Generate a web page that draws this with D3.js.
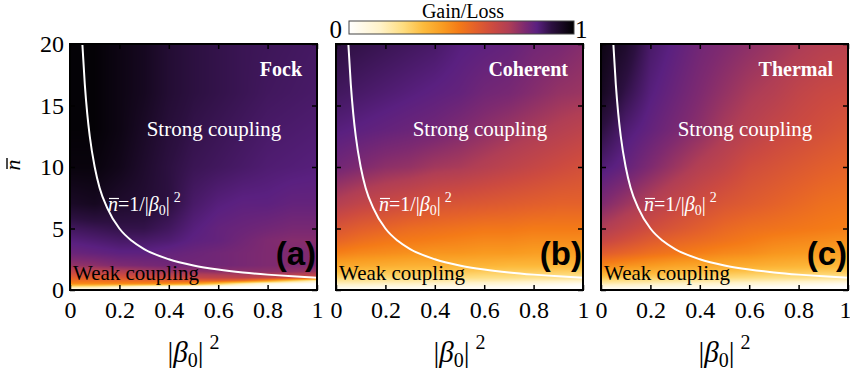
<!DOCTYPE html>
<html>
<head>
<meta charset="utf-8">
<script src="https://cdn.jsdelivr.net/npm/d3@7"></script>
<style>
  body { margin: 0; background: #fff; }
  svg { display: block; }
</style>
</head>
<body>
<div id="chart"></div>
<script>
const betaGrid = [0, 0.1, 0.2, 0.3, 0.4, 0.5, 0.6, 0.7, 0.8, 0.9, 1];
const nGrid = [0, 0.25, 0.5, 0.75, 1, 1.5, 2, 3, 4, 5, 7, 10, 13, 16, 20];

// one row per nGrid entry (n = 0 first), one column per betaGrid entry
const fockGain = [
  [0, 0, 0, 0, 0, 0, 0, 0, 0, 0, 0],
  [0.22, 0.2, 0.14, 0.08, 0.04, 0.02, 0, 0, 0, 0, 0],
  [0.45, 0.45, 0.45, 0.45, 0.44, 0.40, 0.30, 0.16, 0.06, 0.02, 0],
  [0.52, 0.52, 0.53, 0.54, 0.55, 0.56, 0.56, 0.52, 0.42, 0.28, 0.15],
  [0.57, 0.58, 0.60, 0.62, 0.64, 0.66, 0.67, 0.68, 0.66, 0.64, 0.62],
  [0.67, 0.68, 0.70, 0.72, 0.74, 0.75, 0.76, 0.76, 0.76, 0.75, 0.74],
  [0.75, 0.76, 0.78, 0.79, 0.80, 0.80, 0.80, 0.79, 0.78, 0.78, 0.78],
  [0.81, 0.82, 0.83, 0.83, 0.82, 0.81, 0.80, 0.79, 0.78, 0.78, 0.78],
  [0.84, 0.85, 0.86, 0.86, 0.85, 0.83, 0.82, 0.80, 0.78, 0.77, 0.77],
  [0.87, 0.88, 0.89, 0.89, 0.87, 0.84, 0.82, 0.81, 0.80, 0.79, 0.79],
  [0.94, 0.95, 0.93, 0.92, 0.90, 0.86, 0.84, 0.83, 0.83, 0.82, 0.82],
  [0.98, 0.98, 0.96, 0.93, 0.90, 0.88, 0.87, 0.86, 0.85, 0.845, 0.84],
  [0.99, 0.99, 0.97, 0.94, 0.91, 0.89, 0.88, 0.87, 0.86, 0.855, 0.85],
  [0.99, 0.99, 0.97, 0.95, 0.92, 0.90, 0.89, 0.88, 0.87, 0.865, 0.86],
  [0.99, 0.99, 0.97, 0.95, 0.92, 0.90, 0.89, 0.88, 0.875, 0.87, 0.865]
];

const coherentGain = [
  [0, 0, 0, 0, 0, 0, 0, 0, 0, 0, 0],
  [0.07, 0.07, 0.06, 0.06, 0.05, 0.05, 0.04, 0.03, 0.02, 0.01, 0],
  [0.15, 0.15, 0.14, 0.14, 0.13, 0.12, 0.11, 0.10, 0.08, 0.06, 0.04],
  [0.21, 0.21, 0.20, 0.20, 0.19, 0.18, 0.18, 0.17, 0.16, 0.15, 0.14],
  [0.26, 0.26, 0.25, 0.25, 0.24, 0.24, 0.23, 0.23, 0.22, 0.22, 0.21],
  [0.33, 0.32, 0.31, 0.31, 0.30, 0.30, 0.29, 0.29, 0.29, 0.28, 0.28],
  [0.39, 0.38, 0.37, 0.36, 0.36, 0.35, 0.35, 0.34, 0.34, 0.34, 0.34],
  [0.48, 0.46, 0.45, 0.44, 0.43, 0.43, 0.42, 0.42, 0.41, 0.41, 0.41],
  [0.55, 0.52, 0.50, 0.49, 0.48, 0.47, 0.46, 0.46, 0.45, 0.45, 0.45],
  [0.60, 0.57, 0.55, 0.53, 0.52, 0.51, 0.50, 0.50, 0.49, 0.49, 0.49],
  [0.70, 0.67, 0.65, 0.63, 0.61, 0.60, 0.59, 0.58, 0.57, 0.56, 0.56],
  [0.80, 0.78, 0.76, 0.75, 0.73, 0.72, 0.70, 0.68, 0.66, 0.64, 0.62],
  [0.84, 0.83, 0.82, 0.81, 0.80, 0.78, 0.76, 0.74, 0.72, 0.70, 0.68],
  [0.87, 0.86, 0.85, 0.84, 0.83, 0.82, 0.80, 0.79, 0.77, 0.75, 0.74],
  [0.90, 0.89, 0.88, 0.87, 0.86, 0.84, 0.83, 0.82, 0.80, 0.79, 0.77]
];

const thermalGain = [
  [0, 0, 0, 0, 0, 0, 0, 0, 0, 0, 0],
  [0.08, 0.08, 0.07, 0.07, 0.06, 0.05, 0.04, 0.03, 0.02, 0.01, 0],
  [0.17, 0.16, 0.15, 0.14, 0.13, 0.12, 0.11, 0.10, 0.08, 0.06, 0.04],
  [0.24, 0.23, 0.22, 0.21, 0.20, 0.19, 0.18, 0.17, 0.16, 0.15, 0.14],
  [0.30, 0.29, 0.28, 0.27, 0.26, 0.25, 0.24, 0.23, 0.23, 0.22, 0.22],
  [0.39, 0.37, 0.36, 0.34, 0.33, 0.32, 0.31, 0.30, 0.30, 0.29, 0.29],
  [0.47, 0.44, 0.42, 0.40, 0.39, 0.38, 0.37, 0.36, 0.35, 0.35, 0.34],
  [0.58, 0.55, 0.52, 0.50, 0.48, 0.46, 0.45, 0.43, 0.42, 0.41, 0.40],
  [0.66, 0.62, 0.58, 0.55, 0.53, 0.51, 0.49, 0.47, 0.46, 0.45, 0.44],
  [0.71, 0.67, 0.63, 0.60, 0.57, 0.54, 0.52, 0.51, 0.50, 0.49, 0.48],
  [0.78, 0.74, 0.70, 0.66, 0.63, 0.60, 0.58, 0.56, 0.54, 0.52, 0.51],
  [0.85, 0.82, 0.78, 0.74, 0.70, 0.67, 0.63, 0.61, 0.59, 0.57, 0.555],
  [0.90, 0.85, 0.82, 0.79, 0.76, 0.72, 0.69, 0.66, 0.64, 0.62, 0.60],
  [0.95, 0.89, 0.84, 0.81, 0.78, 0.75, 0.72, 0.70, 0.67, 0.65, 0.64],
  [0.97, 0.93, 0.86, 0.83, 0.80, 0.78, 0.76, 0.74, 0.72, 0.70, 0.69]
];

// boundary curve n = 1/|beta0|^2
const curveBeta = [0.05, 0.06, 0.07, 0.08, 0.1, 0.12, 0.15, 0.2, 0.25, 0.3, 0.4, 0.5, 0.6, 0.7, 0.8, 0.9, 1.0];
const curveN = [20, 16.7, 14.3, 12.5, 10, 8.3, 6.7, 5, 4, 3.33, 2.5, 2, 1.67, 1.43, 1.25, 1.11, 1];

const panelNames = ['Fock', 'Coherent', 'Thermal'];
const panelTags = ['(a)', '(b)', '(c)'];
const panelGrids = [fockGain, coherentGain, thermalGain];
const xTicks = [0, 0.2, 0.4, 0.6, 0.8, 1];
const yTicks = [0, 5, 10, 15, 20];

const colorStops = [0, 0.14, 0.24, 0.33, 0.42, 0.49, 0.56, 0.64, 0.71, 0.78, 0.835, 0.9, 1];
const colorValues = ['#ffffff', '#fff2c8', '#fedd80', '#fdbb3d', '#f99a20', '#f47a17', '#e4612a',
  '#cc4a40', '#b03e55', '#7e2a70', '#5a2080', '#2c1040', '#000000'];

const W = 850, H = 377;
const panelLeft = [70, 336, 601];
const pw = 247, ph = 246, panelTop = 44;
const SERIF = '"Liberation Serif", "Times New Roman", serif';
const SANS = '"Liberation Sans", Arial, sans-serif';

const color = d3.scaleLinear().domain(colorStops).range(colorValues)
  .interpolate(d3.interpolateRgb).clamp(true);
const colIdx = d3.scaleLinear().domain(betaGrid).range(d3.range(betaGrid.length)).clamp(true);
const rowIdx = d3.scaleLinear().domain(nGrid).range(d3.range(nGrid.length)).clamp(true);

function sample(grid, b, n) {
  const fi = colIdx(b), fj = rowIdx(n);
  const i0 = Math.min(Math.floor(fi), betaGrid.length - 2), j0 = Math.min(Math.floor(fj), nGrid.length - 2);
  const tx = fi - i0, ty = fj - j0;
  const a = grid[j0][i0] * (1 - tx) + grid[j0][i0 + 1] * tx;
  const c = grid[j0 + 1][i0] * (1 - tx) + grid[j0 + 1][i0 + 1] * tx;
  return a * (1 - ty) + c * ty;
}

const svg = d3.select('#chart').append('svg').attr('width', W).attr('height', H)
  .attr('font-family', SERIF);
svg.append('rect').attr('width', W).attr('height', H).attr('fill', '#fff');
const defs = svg.append('defs');

const x = d3.scaleLinear().domain([0, 1]).range([0, pw]);
const y = d3.scaleLinear().domain([0, 20]).range([ph, 0]);

panelGrids.forEach((grid, k) => {
  const g = svg.append('g').attr('transform', `translate(${panelLeft[k]},${panelTop})`);

  // raster heatmap
  const canvas = document.createElement('canvas');
  canvas.width = pw; canvas.height = ph;
  const ctx = canvas.getContext('2d');
  const img = ctx.createImageData(pw, ph);
  for (let py = 0; py < ph; py++) {
    const n = y.invert(py + 0.5);
    for (let px = 0; px < pw; px++) {
      const c = d3.rgb(color(sample(grid, x.invert(px + 0.5), n)));
      const o = (py * pw + px) * 4;
      img.data[o] = c.r; img.data[o + 1] = c.g; img.data[o + 2] = c.b; img.data[o + 3] = 255;
    }
  }
  ctx.putImageData(img, 0, 0);
  g.append('image').attr('href', canvas.toDataURL()).attr('width', pw).attr('height', ph)
    .attr('preserveAspectRatio', 'none');

  defs.append('clipPath').attr('id', `clip${k}`).append('rect').attr('width', pw).attr('height', ph);

  g.append('path')
    .datum(curveBeta.map((b, i) => [b, curveN[i]]))
    .attr('clip-path', `url(#clip${k})`)
    .attr('fill', 'none').attr('stroke', '#fff').attr('stroke-width', 2)
    .attr('d', d3.line().x(d => x(d[0])).y(d => y(d[1])).curve(d3.curveMonotoneX));

  // axes with inward ticks
  const bx = g.append('g').attr('transform', `translate(0,${ph})`)
    .call(d3.axisBottom(x).tickValues(xTicks).tickSizeInner(-5).tickSizeOuter(0).tickPadding(11)
      .tickFormat(d => d === 0 || d === 1 ? d3.format('d')(d) : d3.format('.1f')(d)));
  if (k === 2) bx.selectAll('.tick text').filter(d => d === 1).attr('text-anchor', 'end').attr('x', 3);
  g.append('g').call(d3.axisTop(x).tickValues(xTicks).tickSizeInner(-5).tickSizeOuter(0).tickFormat(''));
  g.append('g')
    .call(d3.axisLeft(y).tickValues(yTicks).tickSizeInner(-5).tickSizeOuter(0).tickPadding(6)
      .tickFormat(k === 0 ? d3.format('d') : ''));
  g.append('g').attr('transform', `translate(${pw},0)`)
    .call(d3.axisRight(y).tickValues(yTicks).tickSizeInner(-5).tickSizeOuter(0).tickFormat(''));
  g.selectAll('.domain').remove();
  g.selectAll('.tick line').attr('stroke', '#000').attr('stroke-width', 1.5);
  g.selectAll('.tick text').attr('font-family', SERIF).attr('font-size', 24).attr('fill', '#000');

  g.append('rect').attr('width', pw).attr('height', ph)
    .attr('fill', 'none').attr('stroke', '#000').attr('stroke-width', 2);

  // annotations
  g.append('text').attr('x', pw - 15).attr('y', 32).attr('text-anchor', 'end')
    .attr('font-weight', 'bold').attr('font-size', 20).attr('fill', '#fff').text(panelNames[k]);
  g.append('text').attr('x', 144).attr('y', 92).attr('text-anchor', 'middle')
    .attr('font-size', 21).attr('fill', '#fff').text('Strong coupling');
  g.append('text').attr('x', 3).attr('y', 236)
    .attr('font-size', 21).attr('fill', '#000').text('Weak coupling');
  g.append('text').attr('x', pw - 1).attr('y', 221).attr('text-anchor', 'end')
    .attr('font-family', SANS).attr('font-weight', 'bold')
    .attr('font-size', 33).attr('fill', '#000').text(panelTags[k]);

  const ex = k === 0 ? 38 : 43;
  const eq = g.append('text').attr('x', ex).attr('y', 167)
    .attr('font-size', 20).attr('fill', '#fff');
  eq.append('tspan').attr('font-style', 'italic').text('n');
  eq.append('tspan').text('=1/|');
  eq.append('tspan').attr('font-style', 'italic').text('β');
  eq.append('tspan').attr('font-size', 14).attr('dy', 4).text('0');
  eq.append('tspan').attr('dy', -4).text('|');
  eq.append('tspan').attr('font-size', 14).attr('dx', 4).attr('dy', -9).text('2');
  g.append('line').attr('x1', ex + 1).attr('x2', ex + 11).attr('y1', 167 - 12.5).attr('y2', 167 - 12.5)
    .attr('stroke', '#fff').attr('stroke-width', 1.2);

  // x axis title
  const xt = g.append('text').attr('x', pw / 2).attr('y', 362 - panelTop).attr('text-anchor', 'middle')
    .attr('font-size', 29).attr('fill', '#000');
  xt.append('tspan').text('|');
  xt.append('tspan').attr('font-style', 'italic').text('β');
  xt.append('tspan').attr('font-size', 20).attr('dy', 5).text('0');
  xt.append('tspan').attr('dy', -5).text('|');
  xt.append('tspan').attr('font-size', 20).attr('dx', 6).attr('dy', -13).text('2');
});

// y axis title
const yl = svg.append('g').attr('transform', 'translate(20,165) rotate(-90)');
yl.append('text').attr('text-anchor', 'middle').attr('font-size', 22).attr('font-style', 'italic').text('n');
yl.append('line').attr('x1', -4).attr('x2', 7).attr('y1', -13).attr('y2', -13)
  .attr('stroke', '#000').attr('stroke-width', 1.4);

// colour bar
const cbX = d3.scaleLinear().domain([0, 1]).range([349, 574]);
const grad = defs.append('linearGradient').attr('id', 'cbar');
colorStops.forEach((s, i) => grad.append('stop').attr('offset', s).attr('stop-color', colorValues[i]));
svg.append('rect').attr('x', cbX(0)).attr('y', 21).attr('width', cbX(1) - cbX(0)).attr('height', 13)
  .attr('fill', 'url(#cbar)').attr('stroke', '#444').attr('stroke-width', 1);
svg.append('text').attr('x', cbX(0) - 7).attr('y', 38).attr('text-anchor', 'end')
  .attr('font-size', 25).text('0');
svg.append('text').attr('x', cbX(1) + 1).attr('y', 38).attr('font-size', 25).text('1');
svg.append('text').attr('x', 463).attr('y', 18).attr('text-anchor', 'middle')
  .attr('font-size', 20).text('Gain/Loss');
</script>
</body>
</html>
